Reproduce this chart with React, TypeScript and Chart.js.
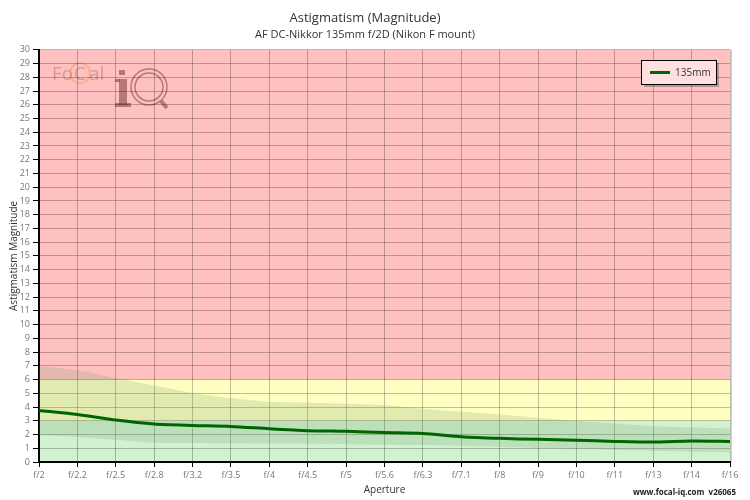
import React, { useEffect, useRef } from "react";
import { Chart, registerables } from "chart.js";
Chart.register(...registerables);

const apertures = ["f/2", "f/2.2", "f/2.5", "f/2.8", "f/3.2", "f/3.5", "f/4", "f/4.5", "f/5", "f/5.6", "f/6.3", "f/7.1", "f/8", "f/9", "f/10", "f/11", "f/13", "f/14", "f/16"];
const astigmatism135 = [3.75, 3.46, 3.05, 2.76, 2.66, 2.59, 2.42, 2.28, 2.23, 2.15, 2.08, 1.84, 1.72, 1.65, 1.58, 1.5, 1.45, 1.53, 1.5];
const upperRange = [6.97, 6.68, 6.12, 5.57, 5.03, 4.65, 4.38, 4.31, 4.24, 4.14, 3.87, 3.65, 3.46, 3.22, 2.98, 2.8, 2.6, 2.52, 2.45];
const lowerRange = [1.96, 1.82, 1.62, 1.4, 1.38, 1.36, 1.34, 1.33, 1.3, 1.26, 1.23, 1.16, 1.09, 1.02, 0.94, 0.87, 0.8, 0.75, 0.7];
const zoneLimits = [3, 6, 30];
const zoneColors = ["rgb(208,242,208)", "rgb(255,255,194)", "rgb(255,192,192)"];
const seriesLabel = "135mm";
const titleText = "Astigmatism (Magnitude)";
const subtitleText = "AF DC-Nikkor 135mm f/2D (Nikon F mount)";
const footerText = "www.focal-iq.com  v26065";

const FONT = "'Open Sans', sans-serif";

const decorPlugin = {
  id: "decor",
  beforeDraw(chart: any) {
    const { ctx, chartArea, scales } = chart;
    const y = scales.y;
    const { left, right } = chartArea;
    let prev = 0;
    ctx.save();
    zoneLimits.forEach((lim, i) => {
      const top = y.getPixelForValue(lim);
      const bottom = y.getPixelForValue(prev);
      ctx.fillStyle = zoneColors[i];
      ctx.fillRect(left, top, right - left, bottom - top);
      prev = lim;
    });
    // watermark logo
    ctx.globalAlpha = 0.45;
    ctx.fillStyle = "rgb(150,110,110)";
    ctx.font = "19px " + FONT;
    ctx.textBaseline = "alphabetic";
    ctx.textAlign = "left";
    ctx.fillText("Fo", 52, 80);
    ctx.fillText("C", 74, 80);
    ctx.fillText("al", 89, 80);
    ctx.strokeStyle = "rgb(240,140,60)";
    ctx.lineWidth = 1.5;
    ctx.beginPath();
    ctx.arc(80, 73, 10, 0, Math.PI * 2);
    ctx.stroke();
    ctx.globalAlpha = 0.55;
    ctx.fillStyle = "rgb(120,60,60)";
    ctx.fillRect(119, 70, 6, 5);
    ctx.fillRect(119, 79, 8, 26);
    ctx.fillRect(115, 79, 5, 3);
    ctx.fillRect(115, 103, 16, 4);
    ctx.strokeStyle = "rgb(120,60,60)";
    ctx.lineWidth = 1.5;
    ctx.beginPath();
    ctx.arc(149, 87, 18, 0, Math.PI * 2);
    ctx.stroke();
    ctx.beginPath();
    ctx.arc(149, 87, 14, 0, Math.PI * 2);
    ctx.stroke();
    ctx.lineWidth = 4;
    ctx.beginPath();
    ctx.moveTo(161, 101);
    ctx.lineTo(167, 108);
    ctx.stroke();
    ctx.restore();
  },
  afterDraw(chart: any) {
    const { ctx, chartArea } = chart;
    ctx.save();
    // right border
    ctx.strokeStyle = "#cccccc";
    ctx.lineWidth = 1;
    ctx.beginPath();
    ctx.moveTo(chartArea.right + 1.5, chartArea.top);
    ctx.lineTo(chartArea.right + 1.5, chartArea.bottom);
    ctx.stroke();
    // legend
    const bx = 641, by = 60, bw = 75, bh = 24;
    ctx.fillStyle = "rgba(0,0,0,0.25)";
    ctx.fillRect(bx + 3, by + 3, bw, bh);
    ctx.fillStyle = "rgb(255,224,224)";
    ctx.fillRect(bx, by, bw, bh);
    ctx.strokeStyle = "#000";
    ctx.lineWidth = 1;
    ctx.strokeRect(bx + 0.5, by + 0.5, bw, bh);
    ctx.strokeStyle = "#006400";
    ctx.lineWidth = 3;
    ctx.beginPath();
    ctx.moveTo(650, by + 12.5);
    ctx.lineTo(670, by + 12.5);
    ctx.stroke();
    ctx.fillStyle = "#333";
    ctx.font = "10px " + FONT;
    ctx.textBaseline = "middle";
    ctx.textAlign = "left";
    ctx.fillText(seriesLabel, 675, by + 13);
    // footer
    ctx.font = "bold 8px " + FONT;
    ctx.textAlign = "right";
    ctx.fillStyle = "#222";
    ctx.fillText(footerText, 736, 493);
    ctx.restore();
  },
};

export default function App() {
  const ref = useRef<HTMLCanvasElement | null>(null);
  useEffect(() => {
    if (!ref.current) return;
    const chart = new Chart(ref.current, {
      type: "line",
      data: {
        labels: apertures,
        datasets: [
          {
            label: seriesLabel,
            data: astigmatism135,
            borderColor: "#006400",
            borderWidth: 3,
            pointRadius: 0,
            tension: 0.25,
            fill: false,
            order: 0,
          },
          {
            label: "upper",
            data: upperRange,
            borderWidth: 0,
            borderColor: "rgba(0,0,0,0)",
            backgroundColor: "rgba(120,160,110,0.22)",
            pointRadius: 0,
            tension: 0.25,
            fill: 2,
            order: 1,
          },
          {
            label: "lower",
            data: lowerRange,
            borderWidth: 0,
            borderColor: "rgba(0,0,0,0)",
            pointRadius: 0,
            tension: 0.25,
            fill: false,
            order: 2,
          },
        ],
      },
      options: {
        responsive: false,
        animation: false,
        events: [],
        layout: { padding: { left: 0, right: 20, top: 0, bottom: 0 } },
        plugins: {
          legend: { display: false },
          tooltip: { enabled: false },
          title: {
            display: true,
            text: titleText,
            color: "#333",
            font: { family: FONT, size: 13, weight: "normal" },
            padding: { top: 10, bottom: 2 },
          },
          subtitle: {
            display: true,
            text: subtitleText,
            color: "#333",
            font: { family: FONT, size: 11, weight: "normal" },
            padding: { top: 1, bottom: 8 },
          },
        },
        scales: {
          x: {
            type: "category",
            offset: false,
            afterFit: (s: any) => {
              s.height = 38;
            },
            grid: {
              color: "rgba(0,0,0,0.25)",
              tickColor: "#000",
              tickLength: 5,
              offset: false,
            },
            border: { color: "#000", width: 2 },
            ticks: {
              color: "#777",
              font: { family: FONT, size: 9 },
              padding: 3,
              autoSkip: false,
              maxRotation: 0,
            },
            title: {
              display: true,
              text: "Aperture",
              color: "#333",
              font: { family: FONT, size: 10 },
              padding: { top: 0, bottom: 4 },
            },
          },
          y: {
            min: 0,
            max: 30,
            afterFit: (s: any) => {
              s.width = 39;
            },
            grid: {
              color: "rgba(0,0,0,0.25)",
              tickColor: "#000",
              tickLength: 6,
            },
            border: { color: "#000", width: 2 },
            ticks: {
              stepSize: 1,
              autoSkip: false,
              color: "#777",
              font: { family: FONT, size: 9 },
              padding: 3,
            },
            title: {
              display: true,
              text: "Astigmatism Magnitude",
              color: "#333",
              font: { family: FONT, size: 10 },
              padding: { top: 8, bottom: 0 },
            },
          },
        },
      },
      plugins: [decorPlugin],
    } as any);
    return () => chart.destroy();
  }, []);
  return (
    <div style={{ position: "fixed", left: 0, top: 0, width: 750, height: 500 }}>
      <canvas ref={ref} width={750} height={500} style={{ display: "block", width: 750, height: 500 }} />
    </div>
  );
}
